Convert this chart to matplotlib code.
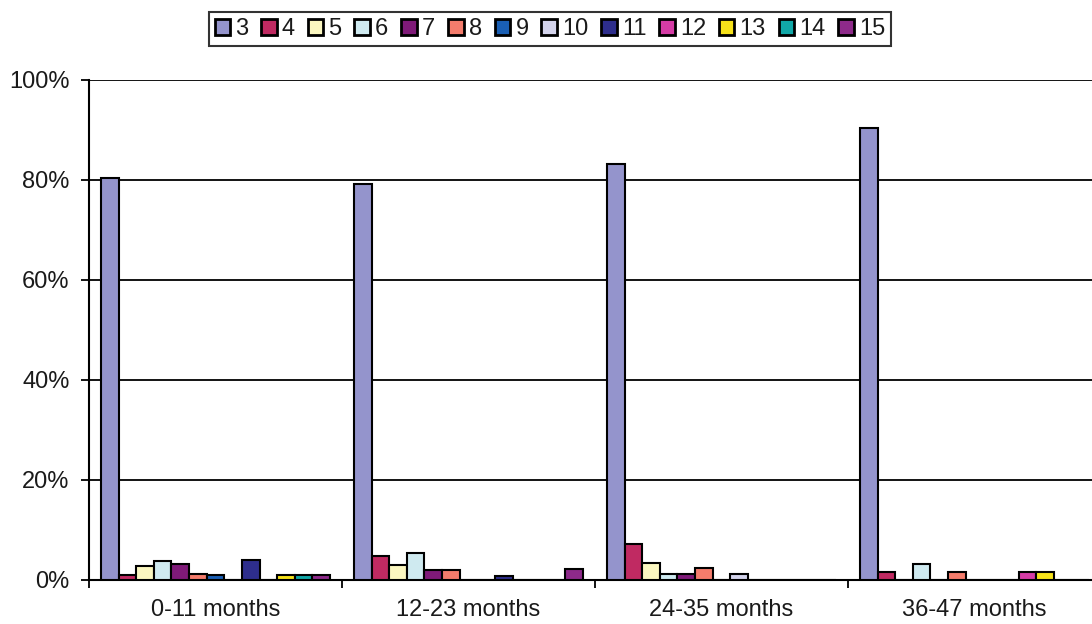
import matplotlib

matplotlib.use("Agg")
import matplotlib.pyplot as plt
import numpy as np

plt.rcParams["font.family"] = ["Liberation Sans", "DejaVu Sans"]
plt.rcParams["text.color"] = "#1a1a1a"
plt.rcParams["xtick.color"] = "black"
plt.rcParams["ytick.color"] = "black"
plt.rcParams["xtick.labelcolor"] = "#1a1a1a"
plt.rcParams["ytick.labelcolor"] = "#1a1a1a"

# ---- data (percent of children per group) ----
AGE_GROUPS = ["0-11 months", "12-23 months", "24-35 months", "36-47 months"]
SERIES = ["3", "4", "5", "6", "7", "8", "9", "10", "11", "12", "13", "14", "15"]
S3 = [80.4, 79.2, 83.2, 90.4]
S4 = [1.0, 4.8, 7.2, 1.7]
S5 = [2.8, 3.1, 3.5, 0.0]
S6 = [3.9, 5.5, 1.3, 3.2]
S7 = [3.2, 2.1, 1.3, 0.0]
S8 = [1.2, 2.1, 2.5, 1.7]
S9 = [1.0, 0.0, 0.0, 0.0]
S10 = [0.0, 0.0, 1.2, 0.0]
S11 = [4.0, 0.8, 0.0, 0.0]
S12 = [0.0, 0.0, 0.0, 1.7]
S13 = [1.0, 0.0, 0.0, 1.7]
S14 = [1.0, 0.0, 0.0, 0.0]
S15 = [1.0, 2.3, 0.0, 0.0]
VALUES = [S3, S4, S5, S6, S7, S8, S9, S10, S11, S12, S13, S14, S15]

COLORS = ["#9494cc", "#c02a62", "#fbf7c0", "#cfeaf0", "#7f1a78", "#f47c6c",
          "#1a5fb4", "#d4d4ec", "#2e2e8c", "#d63ca6", "#f6e21a", "#11a8a8",
          "#8e2a8a"]

FS = 17


def main():
    fig = plt.figure(figsize=(10.92, 6.24), dpi=100)
    ax = fig.add_axes([89 / 1092, 44 / 624, 1012 / 1092, 500 / 624])

    x = np.arange(len(AGE_GROUPS))
    n = len(SERIES)
    group = 0.905
    w = group / n
    for i, (name, vals, col) in enumerate(zip(SERIES, VALUES, COLORS)):
        off = -group / 2 + w * (i + 0.5)
        ax.bar(x + off, vals, width=w, color=col, edgecolor="black",
               linewidth=1.5, label=name, zorder=3)

    ax.set_xlim(-0.5, len(AGE_GROUPS) - 0.5)
    ax.set_ylim(0, 100)
    ax.set_yticks(np.arange(0, 101, 20))
    ax.set_yticklabels([f"{v}%" for v in range(0, 101, 20)])
    ax.yaxis.grid(True, color="black", lw=1.3, zorder=1)
    ax.set_axisbelow(True)

    ax.set_xticks(np.arange(-0.5, len(AGE_GROUPS)), labels=[""] * (len(AGE_GROUPS) + 1))
    ax.set_xticks(x, labels=AGE_GROUPS, minor=True)
    ax.tick_params(axis="x", which="major", direction="out", length=6, width=1.3)
    ax.tick_params(axis="x", which="minor", length=0, pad=14, labelsize=FS)
    ax.tick_params(axis="y", direction="out", length=6, width=1.3, labelsize=FS, pad=8)

    for s in ("top", "right"):
        ax.spines[s].set_visible(False)
    ax.spines["left"].set_linewidth(1.5)
    ax.spines["bottom"].set_linewidth(1.5)

    leg = fig.legend(loc="center", bbox_to_anchor=(550 / 1092, 1 - 29 / 624),
                     ncol=n, fontsize=FS, frameon=True, fancybox=False,
                     handlelength=0.66, handleheight=0.66, handletextpad=0.22,
                     columnspacing=0.54, borderpad=0.24, borderaxespad=0)
    leg.get_frame().set_edgecolor("black")
    leg.get_frame().set_linewidth(1.5)
    for h in leg.legend_handles:
        h.set_linewidth(2.0)

    fig.savefig("out.png", dpi=100)


if __name__ == "__main__":
    main()
